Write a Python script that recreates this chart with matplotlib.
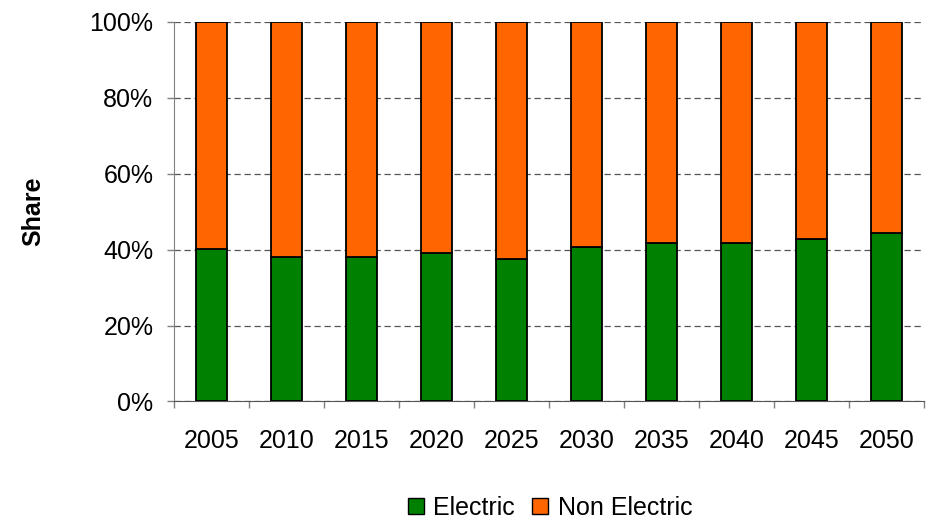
import matplotlib.pyplot as plt
from matplotlib.lines import Line2D

plt.rcParams['font.family'] = ['Liberation Sans', 'DejaVu Sans']

years = ['2005', '2010', '2015', '2020', '2025', '2030', '2035', '2040', '2045', '2050']
electric = [40.2, 38.0, 38.1, 39.0, 37.5, 40.7, 41.7, 41.7, 42.7, 44.4]
non_electric = [59.8, 62.0, 61.9, 61.0, 62.5, 59.3, 58.3, 58.3, 57.3, 55.6]

green = '#008000'
orange = '#FF6600'

fig = plt.figure(figsize=(9.35, 5.2), dpi=100)
ax = fig.add_axes([0.1864, 0.228, 0.8016, 0.7297])

x = list(range(len(years)))
ax.bar(x, electric, width=0.41, color=green, edgecolor='black', linewidth=1.3, zorder=3)
ax.bar(x, non_electric, width=0.41, bottom=electric, color=orange,
       edgecolor='black', linewidth=1.3, zorder=3)

ax.set_xlim(-0.5, len(years) - 0.5)
ax.set_ylim(0, 100)

# ticks between categories, labels centred under the bars
ax.set_xticks([i - 0.5 for i in range(len(years) + 1)])
ax.set_xticklabels([])
ax.set_xticks(x, minor=True)
ax.set_xticklabels(years, minor=True, fontsize=18)
ax.tick_params(axis='x', which='major', direction='out', length=5, color='#808080', width=1)
ax.tick_params(axis='x', which='minor', length=0, pad=20)

ax.set_yticks([0, 20, 40, 60, 80, 100])
ax.set_yticklabels(['0%', '20%', '40%', '60%', '80%', '100%'], fontsize=18)
ax.tick_params(axis='y', direction='out', length=5, color='#808080', width=1, pad=10)

ax.yaxis.grid(True, color='#555555', linestyle=(0, (5, 3)), linewidth=0.9, zorder=0)
ax.set_axisbelow(True)

for side in ['top', 'right']:
    ax.spines[side].set_visible(False)
ax.spines['left'].set_color('#808080')
ax.spines['bottom'].set_color('#555555')

fig.text(33 / 935, 1 - 211 / 520, 'Share', rotation=90, fontsize=18,
         fontweight='bold', ha='center', va='center')

handles = [
    Line2D([], [], marker='s', linestyle='none', markersize=11.5,
           markerfacecolor=green, markeredgecolor='black', markeredgewidth=1),
    Line2D([], [], marker='s', linestyle='none', markersize=11.5,
           markerfacecolor=orange, markeredgecolor='black', markeredgewidth=1),
]
fig.legend(handles, ['Electric', 'Non Electric'], loc='center',
           bbox_to_anchor=(549 / 935, 1 - 508 / 520), ncol=2, frameon=False,
           fontsize=18, handletextpad=0.3, columnspacing=0.6, handlelength=0.8)

fig.savefig('out.png', dpi=100)
